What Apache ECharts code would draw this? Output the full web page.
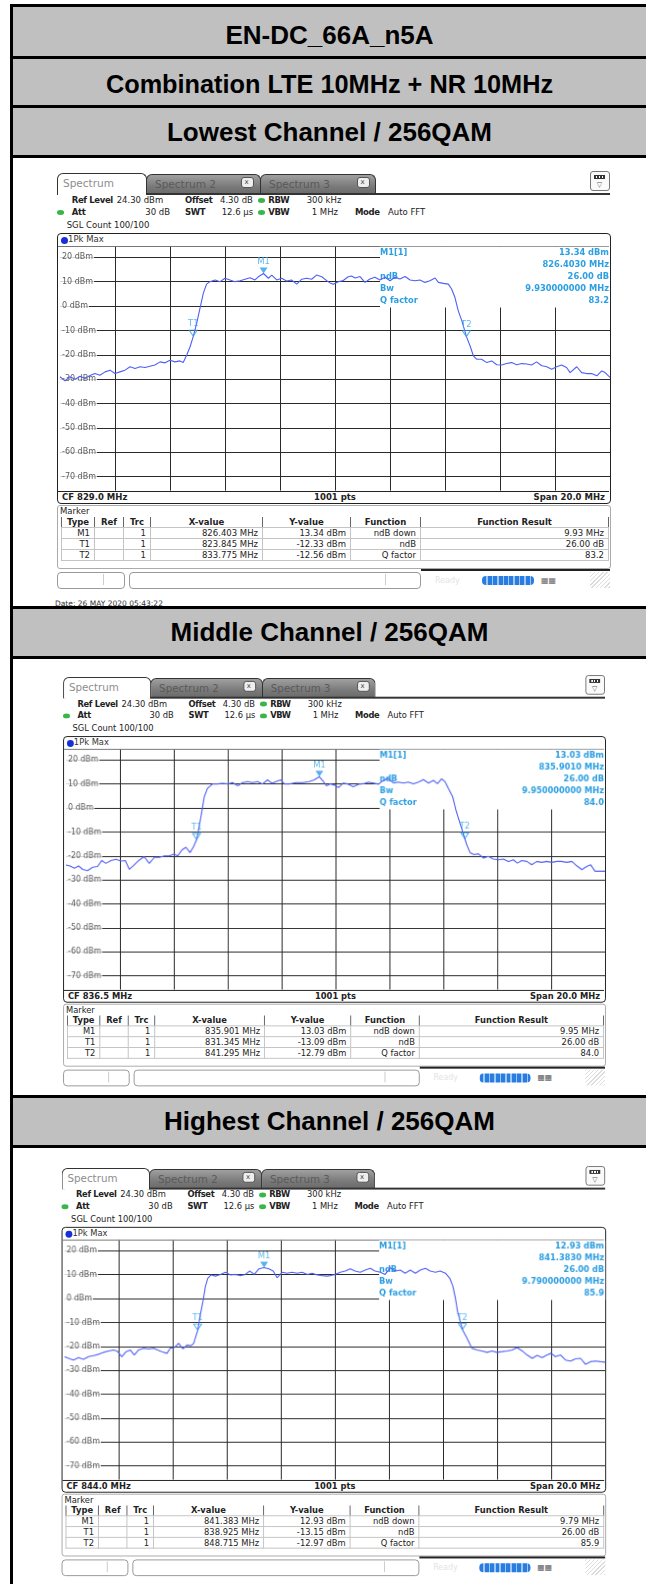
<!DOCTYPE html>
<html><head><meta charset="utf-8">
<script src="https://cdn.jsdelivr.net/npm/echarts@6/dist/echarts.min.js"></script>
<style>
html,body{margin:0;padding:0;background:#fff}
body{width:646px;height:1584px;position:relative;overflow:hidden;font-family:"DejaVu Sans",sans-serif}
.blk{position:absolute;background:#000}
.hdr{position:absolute;left:13px;right:0;background:#c0c0c0;font-family:"Liberation Sans",Arial,sans-serif;font-weight:bold;font-size:26px;color:#000;display:flex;align-items:center;justify-content:center;box-sizing:border-box}
.panel{position:absolute;left:0;top:0;width:560px;height:430px;transform-origin:0 0}
.t{position:absolute;white-space:nowrap;line-height:12px}
table.mk{position:absolute;border-collapse:collapse;font-size:8.5px;color:#222;table-layout:fixed}
table.mk td{border:1px solid #c4c4c4;height:10px;line-height:10px;padding:0 4px;text-align:right;white-space:nowrap;overflow:hidden}
table.mk tr.h td{text-align:center;font-weight:bold;border-left:1px solid #666;border-right:1px solid #666;border-top:none}
</style></head>
<body>
<script>
// ---------- data ----------
const headers = ['EN-DC_66A_n5A','Combination LTE 10MHz + NR 10MHz','Lowest Channel / 256QAM','Middle Channel / 256QAM','Highest Channel / 256QAM'];
const yTicks = [20,10,0,-10,-20,-30,-40,-50,-60,-70];
const yTickLabels = ['20 dBm','10 dBm','0 dBm','-10 dBm','-20 dBm','-30 dBm','-40 dBm','-50 dBm','-60 dBm','-70 dBm'];
const xGridOffsets = [-8,-6,-4,-2,0,2,4,6,8];
const refLevel = 24.3, rangeDb = 100, halfSpan = 10;
const centerFreqs = [829.0, 836.5, 844.0];
const cfLabels = ['CF 829.0 MHz','CF 836.5 MHz','CF 844.0 MHz'];

const freqLow = [819.0,819.18,819.36,819.55,819.73,819.91,820.09,820.27,820.45,820.64,820.82,821.0,821.18,821.36,821.55,821.73,821.91,822.09,822.27,822.45,822.64,822.82,823.0,823.18,823.36,823.48,823.61,823.73,823.85,823.97,824.09,824.21,824.33,824.45,824.64,824.82,825.0,825.18,825.36,825.55,825.73,825.91,826.09,826.21,826.40,826.58,826.70,826.88,827.06,827.24,827.42,827.61,827.79,827.97,828.15,828.33,828.52,828.70,828.82,828.94,829.12,829.30,829.48,829.60,829.73,829.91,830.09,830.27,830.45,830.64,830.82,831.0,831.18,831.36,831.55,831.73,831.91,832.09,832.27,832.45,832.64,832.76,832.94,833.12,833.24,833.36,833.48,833.61,833.78,833.91,834.03,834.15,834.33,834.52,834.70,834.88,835.06,835.24,835.42,835.61,835.79,835.97,836.15,836.33,836.52,836.70,836.88,837.06,837.24,837.42,837.55,837.79,837.97,838.15,838.33,838.52,838.70,838.82,839.0];
const levelLow = [-29.0,-30.7,-29.0,-30.0,-28.8,-29.7,-28.5,-27.7,-28.4,-27.0,-26.3,-27.7,-27.0,-26.3,-24.9,-25.6,-24.9,-25.2,-24.7,-24.2,-22.9,-23.3,-22.2,-22.9,-22.5,-23.2,-20.1,-16.7,-12.33,-7.1,-1.0,5.2,9.0,10.0,10.7,10.0,11.4,10.7,10.0,10.4,11.0,11.6,10.7,12.0,13.34,11.4,12.7,10.7,11.4,10.3,10.7,9.0,11.0,11.4,11.0,12.7,12.0,10.4,9.5,8.9,10.0,10.5,12.0,12.3,11.5,12.1,9.7,11.1,11.8,10.7,11.8,10.4,11.8,11.1,12.1,10.7,10.4,10.7,9.7,10.4,11.5,9.7,9.3,9.0,7.0,3.6,-1.9,-6.0,-12.56,-16.3,-20.4,-21.8,-21.8,-23.2,-22.5,-24.1,-24.2,-23.6,-23.2,-24.1,-23.6,-23.8,-24.2,-22.9,-24.5,-24.9,-25.9,-24.9,-24.2,-25.2,-27.3,-24.9,-27.3,-27.7,-27.7,-28.6,-26.6,-27.3,-29.3];

const freqMid = [826.50,826.65,826.81,826.97,827.12,827.30,827.49,827.67,827.83,827.98,828.17,828.35,828.54,828.70,828.85,829.03,829.22,829.40,829.59,829.78,829.96,830.15,830.33,830.52,830.64,830.80,830.95,831.10,831.22,831.35,831.44,831.54,831.63,831.75,831.94,832.12,832.31,832.50,832.68,832.87,833.05,833.24,833.42,833.61,833.79,833.98,834.14,834.29,834.47,834.60,834.78,835.03,835.28,835.52,835.71,835.90,836.05,836.17,
836.30,836.49,836.61,836.79,836.98,837.16,837.35,837.54,837.72,837.91,838.09,838.28,838.46,838.65,838.83,839.02,839.20,839.39,839.58,839.76,839.95,840.13,840.28,840.44,840.57,840.69,840.85,840.97,841.10,841.30,841.37,841.49,841.64,841.80,841.99,842.17,842.36,842.54,842.73,842.92,843.10,843.25,843.41,843.60,843.78,843.97,844.15,844.34,844.52,844.71,844.89,845.08,845.27,845.45,845.64,845.82,845.97,846.13,846.30,846.50];
const levelMid = [-23.75,-24.2,-25.1,-24.2,-25.6,-26.1,-24.7,-24.4,-21.9,-23.1,-21.9,-21.4,-22.1,-21.9,-25.6,-23.75,-21.7,-20.3,-23.1,-20.6,-20.6,-20.0,-20.0,-19.2,-20.0,-17.5,-16.4,-18.6,-16.4,-13.09,-7.8,-1.5,4.7,8.2,10.0,10.0,10.3,10.0,10.6,9.2,10.6,11.0,10.6,11.0,10.0,11.7,10.3,11.0,11.7,10.0,10.0,10.6,10.6,11.0,11.7,13.03,11.0,9.2,
10.1,9.4,8.5,10.4,9.9,8.8,9.9,10.1,10.8,10.4,9.9,11.5,12.2,10.4,10.8,10.4,10.8,10.1,10.8,11.8,10.4,11.5,10.1,12.2,10.8,8.1,4.6,-0.9,-5.7,-12.79,-15.4,-18.6,-19.5,-19.1,-20.9,-20.2,-21.3,-21.6,-21.3,-22.3,-21.6,-23.0,-21.9,-22.3,-23.7,-22.3,-22.7,-22.3,-22.7,-22.3,-22.3,-22.7,-22.3,-24.1,-25.7,-24.4,-23.7,-26.4,-26.4,-26.4];

const freqHigh = [834.0,834.15,834.33,834.52,834.70,834.89,835.07,835.26,835.44,835.63,835.81,835.94,836.12,836.28,836.43,836.58,836.74,836.93,837.11,837.30,837.44,837.60,837.79,837.91,838.06,838.22,838.38,838.53,838.68,838.78,838.93,839.02,839.12,839.21,839.30,839.42,839.58,839.77,839.95,840.14,840.32,840.51,840.69,840.85,841.02,841.19,841.38,841.56,841.72,841.86,842.05,842.23,842.42,842.60,842.79,842.98,843.16,843.35,843.53,843.72,
843.83,844.01,844.20,844.38,844.57,844.75,844.94,845.12,845.31,845.49,845.68,845.86,846.05,846.23,846.42,846.60,846.79,846.98,847.16,847.35,847.53,847.72,847.90,848.09,848.25,848.37,848.46,848.54,848.72,848.89,849.07,849.26,849.44,849.63,849.81,850.0,850.19,850.37,850.56,850.74,850.93,851.11,851.30,851.48,851.67,851.85,852.0,852.16,852.35,852.53,852.72,852.90,853.09,853.27,853.46,853.64,853.83,854.0];
const levelHigh = [-24.3,-25.0,-25.7,-24.7,-25.4,-24.3,-23.9,-23.3,-22.5,-21.9,-21.5,-21.9,-24.3,-22.2,-21.5,-23.6,-21.5,-20.8,-21.1,-20.8,-21.5,-22.2,-22.9,-20.8,-20.5,-18.7,-21.1,-19.4,-19.7,-18.7,-13.15,-6.9,-1.3,5.0,8.5,9.9,9.4,10.1,11.0,9.9,10.1,9.6,10.1,11.5,10.1,12.4,12.93,12.4,11.5,8.7,11.0,10.6,11.0,10.6,11.0,10.1,10.6,9.9,9.6,9.4,
9.6,10.1,11.0,11.5,12.4,11.5,11.0,11.9,12.6,11.5,11.0,10.1,12.9,11.5,11.9,10.6,11.9,10.6,11.9,12.6,11.5,11.0,11.5,10.6,8.5,5.0,0.1,-5.5,-12.97,-16.6,-20.8,-21.5,-21.9,-22.5,-21.9,-22.5,-22.2,-21.9,-21.5,-20.5,-21.9,-23.6,-25.0,-23.8,-24.7,-23.6,-22.9,-24.3,-23.6,-25.7,-26.1,-25.2,-25.0,-27.5,-26.4,-26.1,-26.4,-26.6];

const markerNames = ['M1','T1','T2'];
const markerFreqLow = [826.403, 823.845, 833.775], markerLevelLow = [13.34, -12.33, -12.56];
const markerFreqMid = [835.901, 831.345, 841.295], markerLevelMid = [13.03, -13.09, -12.79];
const markerFreqHigh = [841.383, 838.925, 848.715], markerLevelHigh = [12.93, -13.15, -12.97];

const infoKeys = ['M1[1]','','ndB','Bw','Q factor'];
const infoLow = ['13.34 dBm','826.4030 MHz','26.00 dB','9.930000000 MHz','83.2'];
const infoMid = ['13.03 dBm','835.9010 MHz','26.00 dB','9.950000000 MHz','84.0'];
const infoHigh = ['12.93 dBm','841.3830 MHz','26.00 dB','9.790000000 MHz','85.9'];

const tableHead = ['Type','Ref','Trc','X-value','Y-value','Function','Function Result'];
const tableFunctions = ['ndB down','ndB','Q factor'];
const resultLow = ['9.93 MHz','26.00 dB','83.2'];
const resultMid = ['9.95 MHz','26.00 dB','84.0'];
const resultHigh = ['9.79 MHz','26.00 dB','85.9'];

// ---------- page frame ----------
function box(cls, css, text){const d=document.createElement('div');d.className=cls;d.style.cssText=css;if(text)d.textContent=text;document.body.appendChild(d);return d;}
box('blk','left:10px;top:4px;right:0;height:3px');
box('blk','left:10px;top:4px;width:3px;bottom:0');
box('hdr','top:7px;height:49px;padding-top:7px',headers[0]);
box('blk','left:10px;top:56px;right:0;height:3px');
box('hdr','top:59px;height:46px;padding-top:4px;font-size:25.3px',headers[1]);
box('blk','left:10px;top:105px;right:0;height:3px');
box('hdr','top:108px;height:47px;padding-top:1px',headers[2]);
box('blk','left:10px;top:155px;right:0;height:3px');
box('hdr','top:609px;height:47px',headers[3]);
box('blk','left:10px;top:656px;right:0;height:3px');
box('hdr','top:1098px;height:47px',headers[4]);
box('blk','left:10px;top:1145px;right:0;height:3px');

// ---------- spectrum panels ----------
const BLUE = '#2c9fe2';
function T(p, x, cy, s, o){
  o=o||{};const d=document.createElement('div');d.className='t';
  const fs=o.size||8.5;
  d.style.cssText='left:'+x+'px;top:'+(cy-6)+'px;font-size:'+fs+'px;color:'+(o.color||'#222')+';font-weight:'+(o.bold?'bold':'normal')+';'+(o.align==='right'?'transform:translateX(-100%);':o.align==='center'?'transform:translateX(-50%);':'')+(o.css||'');
  d.textContent=s;p.appendChild(d);return d;
}
function R(p, css){const d=document.createElement('div');d.style.cssText='position:absolute;'+css;p.appendChild(d);return d;}
const BL={bold:true,css:'letter-spacing:-0.35px'};

function buildPanel(cfg){
  const p=document.createElement('div');p.className='panel';
  p.style.transform='translate('+cfg.origin[0]+'px,'+cfg.origin[1]+'px) scale('+cfg.scale[0]+','+cfg.scale[1]+')';
  document.body.appendChild(p);
  // tabs
  R(p,'left:2px;top:5px;width:88px;height:21px;border:1.5px solid #333;border-bottom:none;border-radius:6px 6px 0 0;background:#fff');
  T(p,8,15,'Spectrum',{size:10.5,color:'#8d8d8d'});
  [[91,'Spectrum 2',186],[205,'Spectrum 3',302]].forEach(a=>{
    R(p,'left:'+a[0]+'px;top:6px;width:'+(a[0]===91?113:114)+'px;height:19px;border:1px solid #333;border-bottom:none;border-radius:6px 6px 0 0;background:linear-gradient(#a0a0a0,#7a7a7a 60%,#6a6a6a)');
    T(p,a[0]+9,15.5,a[1],{size:10.5,color:'#5a5a5a'});
    R(p,'left:'+a[2]+'px;top:9px;width:11px;height:9px;border:1px solid #555;border-radius:3px;background:#eee');
    T(p,a[2]+3.5,13.5,'x',{size:7,color:'#444'});
  });
  R(p,'left:91px;top:25px;width:464px;height:1.5px;background:#333');
  // icon
  R(p,'left:535px;top:3px;width:18px;height:18px;border:1px solid #777;border-radius:3px;background:#fafafa');
  R(p,'left:539px;top:7px;width:11px;height:4px;background:#333');
  R(p,'left:540.5px;top:8.3px;width:8px;height:1.4px;background:repeating-linear-gradient(90deg,#fff 0 1.4px,transparent 1.4px 2.8px)');
  T(p,544.5,16.5,'\u25BD',{size:7,color:'#555',align:'center'});
  // info rows
  T(p,16.7,32,'Ref Level',BL);T(p,61.7,32,'24.30 dBm');
  T(p,130,32,'Offset',BL);T(p,165,32,'4.30 dB');
  T(p,213.3,32,'RBW',BL);T(p,251.7,32,'300 kHz');
  T(p,16.7,44,'Att',BL);T(p,115,44,'30 dB',{align:'right'});
  T(p,130,44,'SWT',BL);T(p,166.7,44,'12.6 \u00b5s');
  T(p,213.3,44,'VBW',BL);T(p,283,44,'1 MHz',{align:'right'});
  T(p,300,44,'Mode',BL);T(p,333,44,'Auto FFT');
  T(p,11.7,57,'SGL Count 100/100');
  [[202.5,30],[2,42],[202.5,42]].forEach(a=>R(p,'left:'+a[0]+'px;top:'+(a[1])+'px;width:7px;height:4.5px;border-radius:50%;background:#39b54a'));
  // plot frame
  R(p,'left:2px;top:65px;width:552px;height:269px;border:1.5px solid #222;border-radius:4px;background:#fff');
  R(p,'left:6px;top:68.5px;width:7px;height:7px;border-radius:50%;background:#1530d8');
  T(p,13,71,'1Pk Max',{size:8.5,color:'#333'});
  R(p,'left:3px;top:78px;width:551px;height:1px;background:#777');
  R(p,'left:3px;top:322.6px;width:551px;height:1.2px;background:#222');
  T(p,7,329,cfLabels[cfg.idx],{size:8.5,bold:true,color:'#222'});
  T(p,280,329,'1001 pts',{size:8.5,bold:true,color:'#222',align:'center'});
  T(p,550,329,'Span 20.0 MHz',{size:8.5,bold:true,color:'#222',align:'right'});
  // chart canvas
  const c=R(p,'left:2px;top:65px;width:554px;height:271px');
  // marker table
  R(p,'left:2px;top:337px;width:552px;height:62px;border:1px solid #aaa;border-radius:3px;background:#fff');
  T(p,5,343,'Marker',{size:8.5,color:'#222'});
  const tb=document.createElement('table');tb.className='mk';tb.style.left='6px';tb.style.top='349px';
  const widths=[33,29,27,112,88,70,188];
  const cg=document.createElement('colgroup');widths.forEach(w=>{const col=document.createElement('col');col.style.width=w+'px';cg.appendChild(col);});tb.appendChild(cg);
  const hr=document.createElement('tr');hr.className='h';tableHead.forEach(h=>{const td=document.createElement('td');td.textContent=h;hr.appendChild(td);});tb.appendChild(hr);
  markerNames.forEach((n,i)=>{
    const tr=document.createElement('tr');
    [n,'','1',cfg.mf[i].toFixed(3)+' MHz',cfg.ml[i].toFixed(2)+' dBm',tableFunctions[i],cfg.res[i]].forEach(v=>{const td=document.createElement('td');td.textContent=v;tr.appendChild(td);});
    tb.appendChild(tr);
  });
  p.appendChild(tb);
  // status bar
  R(p,'left:2px;top:404px;width:66px;height:15px;border:1px solid #999;border-radius:4px;background:#fff');
  R(p,'left:48px;top:406px;width:1px;height:11px;background:#ccc');
  R(p,'left:74px;top:404px;width:290px;height:15px;border:1px solid #999;border-radius:4px;background:#fff');
  R(p,'left:330px;top:406px;width:1px;height:11px;background:#ccc');
  R(p,'left:366px;top:401px;width:189px;height:2px;background:#222');
  R(p,'left:535px;top:404px;width:20px;height:16px;background:repeating-linear-gradient(135deg,#ddd 0 1px,#fff 1px 3px)');
  T(p,380,412.5,'Ready',{size:8,color:'#e4e4e4'});
  R(p,'left:427px;top:408px;width:52px;height:9px;border-radius:4px;background:repeating-linear-gradient(90deg,#2a7de0 0 4px,#9cc6f5 4px 5.5px)');
  T(p,486,412.5,'\u25A6\u25A6',{size:8,color:'#666'});
  if(cfg.date) T(p,0,436,'Date: 26 MAY 2020  05:43:22',{size:7.5,color:'#333'});

  // ---- ECharts plot ----
  const chart=echarts.init(c,null,{renderer:'canvas'});
  const cf=cfg.cf;
  const trace=cfg.freq.map((f,i)=>[+(f-cf).toFixed(3),cfg.level[i]]);
  const marks=markerNames.map((n,i)=>({name:n,value:[+(cfg.mf[i]-cf).toFixed(3),cfg.ml[i]],
    itemStyle: i===0?{color:BLUE}:{color:'rgba(255,255,255,0)',borderColor:BLUE,borderWidth:1}}));
  const gx=3, gy=13.8, gw=550, gh=243.8;
  const bx=323, bw=230, by=gy, bh=60.7;
  const graphic=[{type:'rect',shape:{x:bx,y:by,width:bw,height:bh},style:{fill:'#fff'},z:2,silent:true}];
  const rowY=[20,32,44,56,68];
  const ifont='bold 8.3px "DejaVu Sans"';
  infoKeys.forEach((k,i)=>{
    if(k) graphic.push({type:'text',x:bx,y:rowY[i],z:3,silent:true,style:{text:k,fill:BLUE,font:ifont,align:'left',verticalAlign:'middle'}});
    graphic.push({type:'text',x:bx+bw-1,y:rowY[i],z:3,silent:true,style:{text:cfg.info[i],fill:BLUE,font:ifont,align:'right',verticalAlign:'middle'}});
  });
  chart.setOption({
    animation:false,
    grid:{left:gx,top:gy,width:gw,height:gh},
    xAxis:{type:'value',min:-halfSpan,max:halfSpan,show:false},
    yAxis:{type:'value',min:refLevel-rangeDb,max:refLevel,show:false},
    graphic:graphic,
    series:[
      {type:'line',data:[],z:1,silent:true,
       markLine:{z:1,silent:true,symbol:'none',animation:false,label:{show:false},lineStyle:{color:'#2a2a2a',width:1,type:'solid'},
         data:yTicks.map(v=>({yAxis:v})).concat(xGridOffsets.map(v=>({xAxis:v})))}},
      {type:'scatter',z:3,silent:true,symbolSize:0,data:yTicks.map((v,i)=>({value:[-halfSpan,v],name:yTickLabels[i]})),
       label:{show:true,position:'right',distance:0,formatter:'{b}',color:'#333',fontSize:8,fontFamily:'DejaVu Sans',backgroundColor:'#fff',padding:[1,1,0,2]}},
      {type:'line',z:5,silent:true,data:trace,showSymbol:false,smooth:false,lineStyle:{color:'#4f5ff5',width:1.1}},
      {type:'scatter',z:6,silent:true,data:marks,symbol:'triangle',symbolRotate:180,symbolSize:[8,6],symbolOffset:[0,-3],
       label:{show:true,position:'top',distance:1,formatter:'{b}',color:'#3aa6e6',fontSize:8.5,fontFamily:'DejaVu Sans'}}
    ]
  });
}

buildPanel({idx:0,cf:centerFreqs[0],origin:[55,168],scale:[1,1],freq:freqLow,level:levelLow,mf:markerFreqLow,ml:markerLevelLow,info:infoLow,res:resultLow,date:true});
buildPanel({idx:1,cf:centerFreqs[1],origin:[61.1,672.1],scale:[0.98,0.984],freq:freqMid,level:levelMid,mf:markerFreqMid,ml:markerLevelMid,info:infoMid,res:resultMid,date:false});
buildPanel({idx:2,cf:centerFreqs[2],origin:[59.6,1163.1],scale:[0.983,0.981],freq:freqHigh,level:levelHigh,mf:markerFreqHigh,ml:markerLevelHigh,info:infoHigh,res:resultHigh,date:false});
box('blk','left:10px;top:606px;right:0;height:3px');
box('blk','left:10px;top:1095px;right:0;height:3px');
</script>
</body></html>
